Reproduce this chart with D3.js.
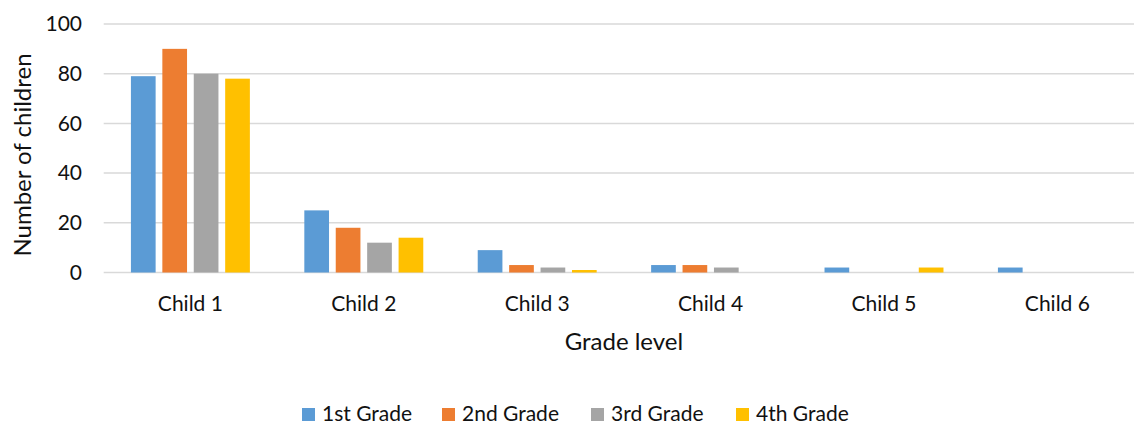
<!DOCTYPE html>
<html>
<head>
<meta charset="utf-8">
<script src="https://cdn.jsdelivr.net/npm/d3@7"></script>
<style>
  body { margin: 0; background: #fff; }
  svg text { font-family: Lato, "Open Sans", sans-serif; fill: #111; }
</style>
</head>
<body>
<div id="chart"></div>
<script>
// Chart data.
const categories = ["Child 1", "Child 2", "Child 3", "Child 4", "Child 5", "Child 6"];
const seriesNames = ["1st Grade", "2nd Grade", "3rd Grade", "4th Grade"];
const grade1 = [79, 25, 9, 3, 2, 2];
const grade2 = [90, 18, 3, 3, 0, 0];
const grade3 = [80, 12, 2, 2, 0, 0];
const grade4 = [78, 14, 1, 0, 2, 0];
const yTicks = [0, 20, 40, 60, 80, 100];
const colors = ["#5B9BD5", "#ED7D31", "#A5A5A5", "#FFC000"];

const allSeries = [grade1, grade2, grade3, grade4];

const width = 1134, height = 424;
const plotLeft = 103.7, plotRight = 1144.1, plotTop = 24, plotBottom = 272.5;

const svg = d3.select("#chart").append("svg")
  .attr("width", width)
  .attr("height", height);

const x = d3.scaleBand()
  .domain(categories)
  .range([plotLeft, plotRight])
  .paddingInner(0.314)
  .paddingOuter(0.157);

const xSub = d3.scaleBand()
  .domain(seriesNames)
  .range([0, x.bandwidth()])
  .paddingInner(0.214)
  .paddingOuter(0);

const y = d3.scaleLinear()
  .domain([0, 100])
  .range([plotBottom, plotTop]);

// Gridlines.
svg.append("g")
  .selectAll("line")
  .data(yTicks)
  .enter().append("line")
  .attr("x1", plotLeft)
  .attr("x2", plotRight)
  .attr("y1", d => y(d))
  .attr("y2", d => y(d))
  .attr("stroke", "#D9D9D9")
  .attr("stroke-width", 1.5);

// Y tick labels.
svg.append("g")
  .selectAll("text")
  .data(yTicks)
  .enter().append("text")
  .attr("x", 82)
  .attr("y", d => y(d))
  .attr("dy", "0.35em")
  .attr("text-anchor", "end")
  .style("font-size", "21px")
  .text(d => d);

// Bars.
const groups = svg.append("g")
  .selectAll("g")
  .data(categories)
  .enter().append("g")
  .attr("transform", d => "translate(" + x(d) + ",0)");

groups.selectAll("rect")
  .data((d, i) => allSeries.map((s, k) => ({ name: seriesNames[k], value: s[i], k: k })))
  .enter().append("rect")
  .attr("x", d => xSub(d.name))
  .attr("width", xSub.bandwidth())
  .attr("y", d => y(d.value))
  .attr("height", d => plotBottom - y(d.value))
  .attr("fill", d => colors[d.k]);

// Category labels.
svg.append("g")
  .selectAll("text")
  .data(categories)
  .enter().append("text")
  .attr("x", d => x(d) + x.bandwidth() / 2)
  .attr("y", 311)
  .attr("text-anchor", "middle")
  .style("font-size", "21px")
  .text(d => d);

// Axis titles.
svg.append("text")
  .attr("x", (plotLeft + plotRight) / 2)
  .attr("y", 350)
  .attr("text-anchor", "middle")
  .style("font-size", "24px")
  .text("Grade level");

svg.append("text")
  .attr("transform", "translate(31,155) rotate(-90)")
  .attr("text-anchor", "middle")
  .style("font-size", "24px")
  .text("Number of children");

// Legend.
const legendX = [302, 442, 591, 736];
const legend = svg.append("g")
  .selectAll("g")
  .data(seriesNames)
  .enter().append("g")
  .attr("transform", (d, i) => "translate(" + legendX[i] + ",408)");

legend.append("rect")
  .attr("width", 13)
  .attr("height", 13)
  .attr("fill", (d, i) => colors[i]);

legend.append("text")
  .attr("x", 20)
  .attr("y", 13)
  .style("font-size", "21px")
  .text(d => d);
</script>
</body>
</html>
